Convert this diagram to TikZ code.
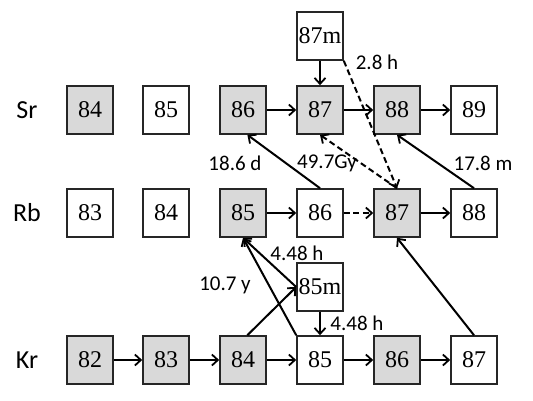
\documentclass[tikz,border=0pt]{standalone}
\usepackage{fontspec}
\setmainfont{Liberation Serif}
\newfontfamily\lblfont{Carlito}
\usetikzlibrary{arrows.meta}
\definecolor{boxgray}{HTML}{D9D9D9}
\begin{document}
\begin{tikzpicture}[x=1pt,y=-1pt,
  iso/.style={draw=black!85,line width=1.6pt,minimum width=46pt,minimum height=48pt,inner sep=0pt,font=\fontsize{24}{26}\selectfont,fill=white},
  stable/.style={iso,fill=boxgray},
  elem/.style={font=\lblfont\fontsize{26}{28}\selectfont},
  hl/.style={font=\lblfont\fontsize{21}{23}\selectfont,inner sep=0pt},
  arr/.style={-{Straight Barb[length=6pt,width=11pt,line width=1.8pt]},line width=2pt,black},
  darr/.style={arr,dash pattern=on 6pt off 3.5pt}]
\useasboundingbox (0,0) rectangle (533,400);
% element labels
\node[elem] (lsr) at (27,110) {Sr};
\node[elem] (lrb) at (27,213) {Rb};
\node[elem] (lkr) at (27,360) {Kr};
% Sr row
\node[stable] (sr84) at (90,110) {84};
\node[iso] (sr85) at (166,110) {85};
\node[stable] (sr86) at (243,110) {86};
\node[stable] (sr87) at (320,110) {87};
\node[stable] (sr88) at (397,110) {88};
\node[iso] (sr89) at (474,110) {89};
\node[iso] (sr87m) at (320,36) {87m};
% Rb row
\node[iso] (rb83) at (90,213) {83};
\node[iso] (rb84) at (166,213) {84};
\node[stable] (rb85) at (243,213) {85};
\node[iso] (rb86) at (320,213) {86};
\node[stable] (rb87) at (397,213) {87};
\node[iso] (rb88) at (474,213) {88};
% Kr row
\node[stable] (kr82) at (90,360) {82};
\node[stable] (kr83) at (166,360) {83};
\node[stable] (kr84) at (243,360) {84};
\node[iso] (kr85) at (320,360) {85};
\node[stable] (kr86) at (397,360) {86};
\node[iso] (kr87) at (474,360) {87};
\node[iso] (kr85m) at (320,287) {85m};
% half-life labels
\node[hl] (t1) at (377,62) {2.8 h};
\node[hl] (t2) at (235,163) {18.6 d};
\node[hl] (t3) at (327,163) {49.7Gy};
\node[hl] (t4) at (483,163) {17.8 m};
\node[hl] (t5) at (297,253) {4.48 h};
\node[hl] (t6) at (225,285) {10.7 y};
\node[hl] (t7) at (357,323) {4.48 h};
% arrows Sr
\draw[arr] (sr86) -- (sr87);
\draw[arr] (sr87) -- (sr88);
\draw[arr] (sr88) -- (sr89);
\draw[arr] (sr87m) -- (sr87);
\draw[darr] (sr87m.south east) -- (rb87.north);
% Rb
\draw[arr] (rb85) -- (rb86);
\draw[darr] (rb86) -- (rb87);
\draw[arr] (rb87) -- (rb88);
\draw[arr] (rb86.north) -- (sr86.-80);
\draw[darr] (rb87.north) -- (sr87.south);
\draw[arr] (rb88.north) -- (sr88.south);
% Kr
\draw[arr] (kr82) -- (kr83);
\draw[arr] (kr83) -- (kr84);
\draw[arr] (kr84) -- (kr85);
\draw[arr] (kr85) -- (kr86);
\draw[arr] (kr86) -- (kr87);
\draw[arr] (kr84.80) -- (kr85m.west);
\draw[arr] (kr85m) -- (kr85);
\draw[arr] (kr85m.west) -- (rb85.south);
\draw[arr] (kr85.north west) -- (rb85.south);
\draw[arr] (kr87.north) -- (rb87.south);
\end{tikzpicture}
\end{document}
